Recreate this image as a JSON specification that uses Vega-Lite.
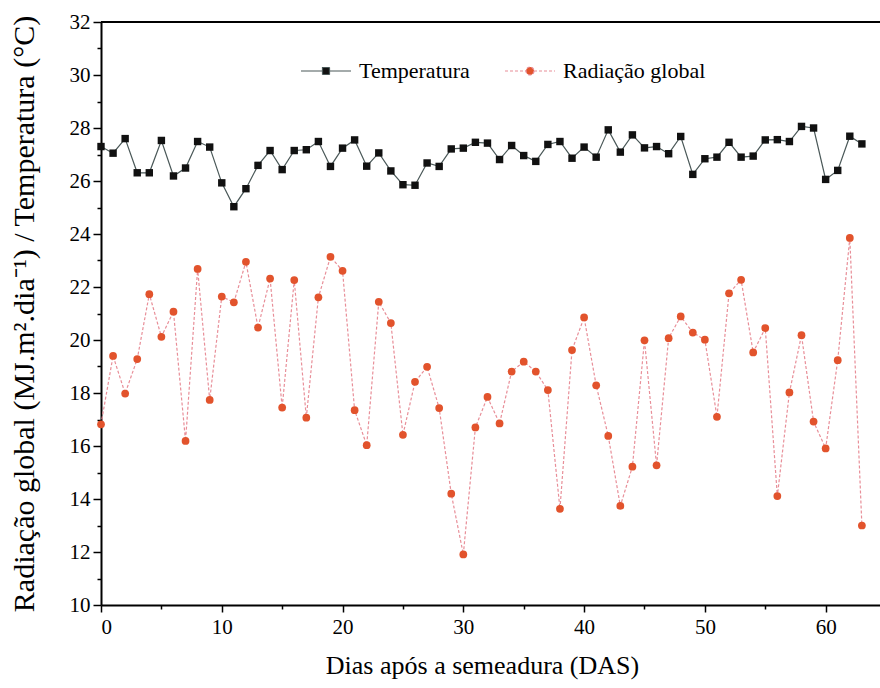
{
  "$schema": "https://vega.github.io/schema/vega-lite/v6.json",
  "autosize": "none",
  "width": 779,
  "height": 583,
  "padding": {"left": 101, "top": 22, "right": 0, "bottom": 83},
  "background": "white",
  "config": {
    "view": {"stroke": null},
    "font": "Liberation Serif",
    "axis": {
      "labelFont": "Liberation Serif",
      "titleFont": "Liberation Serif",
      "labelColor": "black",
      "titleColor": "black",
      "domainColor": "black",
      "tickColor": "black",
      "grid": false,
      "titleFontWeight": "normal"
    },
    "legend": {
      "labelFont": "Liberation Serif"
    }
  },
  "data": {
    "values": [
      {"das": 0, "temp": 27.30, "rad": 16.82},
      {"das": 1, "temp": 27.05, "rad": 19.40},
      {"das": 2, "temp": 27.60, "rad": 17.98},
      {"das": 3, "temp": 26.31, "rad": 19.28},
      {"das": 4, "temp": 26.31, "rad": 21.73},
      {"das": 5, "temp": 27.53, "rad": 20.12},
      {"das": 6, "temp": 26.19, "rad": 21.07},
      {"das": 7, "temp": 26.49, "rad": 16.19},
      {"das": 8, "temp": 27.49, "rad": 22.68},
      {"das": 9, "temp": 27.28, "rad": 17.74},
      {"das": 10, "temp": 25.93, "rad": 21.64},
      {"das": 11, "temp": 25.03, "rad": 21.42},
      {"das": 12, "temp": 25.71, "rad": 22.95},
      {"das": 13, "temp": 26.59, "rad": 20.47},
      {"das": 14, "temp": 27.15, "rad": 22.32},
      {"das": 15, "temp": 26.43, "rad": 17.45},
      {"das": 16, "temp": 27.15, "rad": 22.26},
      {"das": 17, "temp": 27.18, "rad": 17.07},
      {"das": 18, "temp": 27.49, "rad": 21.61},
      {"das": 19, "temp": 26.55, "rad": 23.14},
      {"das": 20, "temp": 27.24, "rad": 22.61},
      {"das": 21, "temp": 27.55, "rad": 17.35},
      {"das": 22, "temp": 26.56, "rad": 16.03},
      {"das": 23, "temp": 27.06, "rad": 21.44},
      {"das": 24, "temp": 26.38, "rad": 20.64},
      {"das": 25, "temp": 25.86, "rad": 16.42},
      {"das": 26, "temp": 25.84, "rad": 18.42},
      {"das": 27, "temp": 26.68, "rad": 18.99},
      {"das": 28, "temp": 26.55, "rad": 17.43},
      {"das": 29, "temp": 27.21, "rad": 14.20},
      {"das": 30, "temp": 27.24, "rad": 11.91},
      {"das": 31, "temp": 27.46, "rad": 16.70},
      {"das": 32, "temp": 27.43, "rad": 17.85},
      {"das": 33, "temp": 26.81, "rad": 16.85},
      {"das": 34, "temp": 27.34, "rad": 18.81},
      {"das": 35, "temp": 26.96, "rad": 19.18},
      {"das": 36, "temp": 26.74, "rad": 18.81},
      {"das": 37, "temp": 27.38, "rad": 18.11},
      {"das": 38, "temp": 27.49, "rad": 13.63},
      {"das": 39, "temp": 26.86, "rad": 19.62},
      {"das": 40, "temp": 27.28, "rad": 20.85},
      {"das": 41, "temp": 26.90, "rad": 18.29},
      {"das": 42, "temp": 27.93, "rad": 16.38},
      {"das": 43, "temp": 27.09, "rad": 13.74},
      {"das": 44, "temp": 27.74, "rad": 15.22},
      {"das": 45, "temp": 27.25, "rad": 19.99},
      {"das": 46, "temp": 27.30, "rad": 15.27},
      {"das": 47, "temp": 27.03, "rad": 20.07},
      {"das": 48, "temp": 27.68, "rad": 20.89},
      {"das": 49, "temp": 26.25, "rad": 20.28},
      {"das": 50, "temp": 26.84, "rad": 20.01},
      {"das": 51, "temp": 26.90, "rad": 17.10},
      {"das": 52, "temp": 27.46, "rad": 21.76},
      {"das": 53, "temp": 26.90, "rad": 22.27},
      {"das": 54, "temp": 26.94, "rad": 19.53},
      {"das": 55, "temp": 27.55, "rad": 20.45},
      {"das": 56, "temp": 27.56, "rad": 14.11},
      {"das": 57, "temp": 27.49, "rad": 18.02},
      {"das": 58, "temp": 28.06, "rad": 20.18},
      {"das": 59, "temp": 28.00, "rad": 16.92},
      {"das": 60, "temp": 26.06, "rad": 15.91},
      {"das": 61, "temp": 26.40, "rad": 19.24},
      {"das": 62, "temp": 27.69, "rad": 23.85},
      {"das": 63, "temp": 27.40, "rad": 13.00}
    ]
  },
  "transform": [
    {"fold": ["temp", "rad"], "as": ["key", "valor"]},
    {"lookup": "key", "from": {"data": {"values": [{"key": "temp", "serie": "Temperatura"}, {"key": "rad", "serie": "Radiação global"}]}, "key": "key", "fields": ["serie"]}}
  ],
  "encoding": {
    "x": {
      "field": "das",
      "type": "quantitative",
      "scale": {"domain": [0, 64.5], "nice": false, "zero": false},
      "axis": {
        "title": "Dias após a semeadura (DAS)",
        "values": [0, 5, 10, 15, 20, 25, 30, 35, 40, 45, 50, 55, 60],
        "labelExpr": "datum.value % 10 === 0 ? datum.label : ''",
        "tickSize": {"condition": {"test": "datum.value % 10 === 0", "value": 7}, "value": 4},
        "tickWidth": 1.5,
        "domainWidth": 2,
        "labelFont": "Liberation Serif",
        "titleFont": "Liberation Serif",
        "labelFontSize": 21,
        "labelPadding": 4,
        "titleFontSize": 26,
        "titlePadding": 15,
        "titleX": 381
      }
    },
    "y": {
      "field": "valor",
      "type": "quantitative",
      "scale": {"domain": [10, 32], "nice": false, "zero": false},
      "axis": {
        "title": "Radiação global (MJ.m².dia⁻¹) / Temperatura (°C)",
        "values": [10, 11, 12, 13, 14, 15, 16, 17, 18, 19, 20, 21, 22, 23, 24, 25, 26, 27, 28, 29, 30, 31, 32],
        "labelExpr": "datum.value % 2 === 0 ? datum.label : ''",
        "tickSize": {"condition": {"test": "datum.value % 2 === 0", "value": 8}, "value": 4},
        "tickWidth": 1.5,
        "domainWidth": 2,
        "labelFont": "Liberation Serif",
        "titleFont": "Liberation Serif",
        "labelFontSize": 21,
        "labelPadding": 3,
        "titleFontSize": 30,
        "titlePadding": 30
      }
    }
  },
  "layer": [
    {
      "mark": {"type": "rule", "color": "black", "strokeWidth": 2},
      "encoding": {"y": {"datum": 32}, "x": {"value": 0}, "x2": {"value": 779}}
    },
    {
      "transform": [{"filter": "datum.key === 'temp'"}],
      "mark": {"type": "line", "strokeWidth": 1.2, "stroke": "#4a5858"},
      "encoding": {}
    },
    {
      "transform": [{"filter": "datum.key === 'rad'"}],
      "mark": {"type": "line", "strokeWidth": 1.2, "stroke": "#e88e98", "strokeDash": [3, 2]},
      "encoding": {}
    },
    {
      "transform": [{"filter": "datum.key === 'temp'"}],
      "mark": {"type": "point", "shape": "square", "filled": true, "opacity": 1, "size": 55},
      "encoding": {
        "fill": {
          "field": "serie",
          "type": "nominal",
          "scale": {"domain": ["Temperatura", "Radiação global"], "range": ["#111111", "#e2532c"]},
          "legend": {
            "title": null,
            "orient": "none",
            "legendX": 199,
            "legendY": 23,
            "direction": "horizontal",
            "columns": 2,
            "padding": 0,
            "symbolSize": 2500,
            "labelFontSize": 22,
            "labelColor": "black",
            "labelOffset": 7,
            "columnPadding": 32,
            "encoding": {
              "symbols": {
                "shape": {"condition": {"test": "datum.value === 'Temperatura'", "value": "M-1,0H-0.14M0.14,0H1M-0.14,-0.14H0.14V0.14H-0.14Z"}, "value": "M-1,0H-0.16M0.16,0H1M0.16,0A0.16,0.16,0,1,1,-0.16,0A0.16,0.16,0,1,1,0.16,0Z"},
                "stroke": {"condition": {"test": "datum.value === 'Temperatura'", "value": "#4a5858"}, "value": "#e88e98"},
                "strokeDash": {"condition": {"test": "datum.value === 'Temperatura'", "value": [1, 0]}, "value": [3, 2]},
                "strokeWidth": {"value": 1.2},
                "opacity": {"value": 1}
              }
            }
          }
        }
      }
    },
    {
      "transform": [{"filter": "datum.key === 'rad'"}],
      "mark": {"type": "point", "shape": "circle", "filled": true, "opacity": 1, "size": 60},
      "encoding": {
        "fill": {
          "field": "serie",
          "type": "nominal"
        }
      }
    }
  ]
}
